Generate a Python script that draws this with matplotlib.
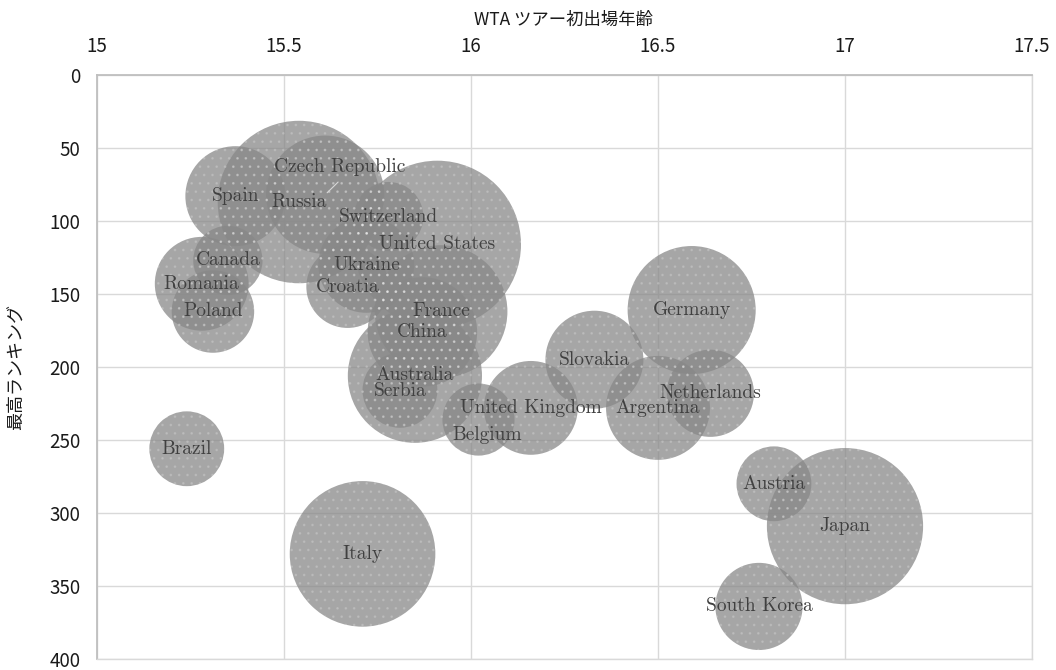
import matplotlib.pyplot as plt
import numpy as np

# bubble data (WTA debut age vs. best ranking)
countries = ["Spain", "Czech Republic", "Russia", "Switzerland", "United States",
             "Canada", "Ukraine", "Romania", "Croatia", "Poland", "France",
             "Germany", "China", "Slovakia", "Australia", "Serbia", "Netherlands",
             "United Kingdom", "Argentina", "Belgium", "Brazil", "Austria",
             "Japan", "Italy", "South Korea"]
debut_age = [15.37, 15.61, 15.54, 15.78, 15.91,
             15.35, 15.72, 15.28, 15.67, 15.31, 15.92,
             16.59, 15.87, 16.33, 15.85, 15.81, 16.64,
             16.16, 16.50, 16.02, 15.24, 16.81,
             17.00, 15.71, 16.77]
best_rank = [83, 82, 87, 97, 116,
             127, 130, 143, 145, 162, 162,
             161, 176, 195, 206, 216, 218,
             228, 228, 236, 256, 280,
             309, 328, 364]
bubble_size = [25, 35, 66, 12, 70,
               12, 23, 22, 17, 17, 44,
               41, 30, 24, 45, 14, 19,
               22, 27, 13, 14, 14,
               61, 53, 19]

x_ticks = [15, 15.5, 16, 16.5, 17, 17.5]
y_ticks = [0, 50, 100, 150, 200, 250, 300, 350, 400]

# labels that were dragged off the bubble centre (pixels)
label_shift = {"Czech Republic": (15, 28), "Belgium": (9, -15),
               "Australia": (0, 1), "Serbia": (0, -1)}

jp = ["Noto Sans CJK JP", "DejaVu Sans"]
plt.rcParams["font.family"] = jp
plt.rcParams["hatch.linewidth"] = 0.8

fig = plt.figure(figsize=(10.56, 6.70), dpi=100)
ax = fig.add_axes([97 / 1056, 1 - 659 / 670, 935 / 1056, 584 / 670])

# diameter in points = 2 * 10 * sqrt(size) px
s = np.array(bubble_size) * (20 * 0.72) ** 2
ax.scatter(debut_age, best_rank, s=s, c="#888888", alpha=0.75,
           edgecolors="none", zorder=3)
# faint dotted texture
ax.scatter(debut_age, best_rank, s=s, facecolors="none",
           edgecolors=(1, 1, 1, 0.15), linewidths=0, hatch="..", zorder=3)

for name, x, y in zip(countries, debut_age, best_rank):
    dx, dy = label_shift.get(name, (0, 0))
    ax.annotate(name, (x, y), xytext=(dx * 0.72, dy * 0.72),
                textcoords="offset points", ha="center", va="center",
                fontsize=14, family="cmr10", color="#404040", zorder=5)

ax.annotate("", xy=(15.61, 82), xytext=(15.65, 72),
            arrowprops=dict(arrowstyle="-", color="#d8d8d8", lw=0.8), zorder=4)

ax.set_xlim(15, 17.5)
ax.set_ylim(400, 0)
ax.set_xticks(x_ticks)
ax.set_xticklabels([f"{t:g}" for t in x_ticks])
ax.set_yticks(y_ticks)
ax.xaxis.tick_top()
ax.tick_params(axis="both", length=0, labelsize=13.5, labelcolor="#1a1a1a")
ax.tick_params(axis="x", pad=13)
ax.tick_params(axis="y", pad=12)

ax.grid(True, color="#d9d9d9", lw=1, zorder=0)
ax.set_axisbelow(True)
for side in ["left", "top"]:
    ax.spines[side].set_color("#bfbfbf")
    ax.spines[side].set_linewidth(1.3)
for side in ["right", "bottom"]:
    ax.spines[side].set_color("#d9d9d9")
    ax.spines[side].set_linewidth(1)

fig.text(564 / 1056, 1 - 20 / 670, "WTA ツアー初出場年齢", ha="center", va="center",
         fontsize=12.5, color="#1a1a1a")
fig.text(16 / 1056, 1 - 367 / 670, "最高ランキング", ha="center", va="center",
         rotation=90, fontsize=13, color="#1a1a1a")

fig.savefig("out.png", dpi=100)
